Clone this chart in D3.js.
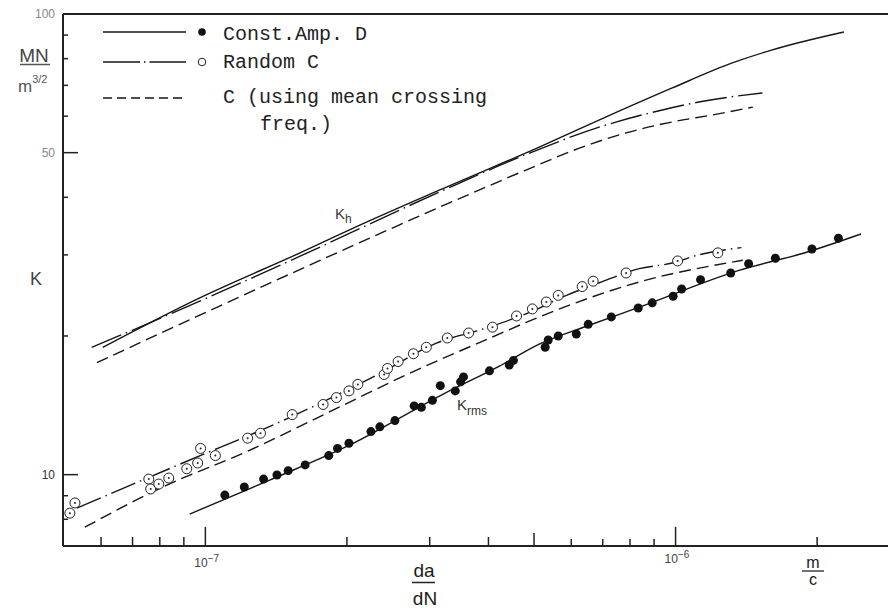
<!DOCTYPE html>
<html lang="en">
<head>
<meta charset="utf-8">
<title>K against da/dN</title>
<script src="https://d3js.org/d3.v7.min.js"></script>
<style>
  body { margin: 0; background: #fff; }
  text { font-family: "Liberation Sans", Arial, sans-serif; fill: #1a1a1a; }
  .mono { font-family: "Liberation Mono", "Courier New", monospace; fill: #222; }
  .tick { fill: #666; font-size: 12px; }
</style>
</head>
<body>
<script>
// da/dN in units of 1e-7 m/c, K in MN/m^3/2

// Const. Amp. D test points (filled)
var dotDa = [1.10,1.21,1.33,1.42,1.50,1.63,1.83,1.91,2.02,2.25,2.35,2.53,2.78,2.88,3.04,3.16,3.40,3.49,3.54,4.02,
             4.43,4.52,5.28,5.36,5.63,6.15,6.52,7.30,8.33,8.92,9.88,10.3,11.3,13.1,14.3,16.3,19.5,22.2];
var dotK  = [9.03,9.40,9.78,9.98,10.2,10.5,11.0,11.4,11.7,12.4,12.7,13.1,14.1,14.0,14.5,15.6,15.2,15.9,16.3,16.8,
             17.3,17.7,18.9,19.6,20.0,20.2,21.2,22.0,23.0,23.6,24.4,25.3,26.5,27.4,28.7,29.5,30.9,32.6];

// Random C test points (open)
var circDa = [0.515,0.528,0.758,0.765,0.796,0.836,0.913,0.963,0.977,1.05,1.23,1.31,1.53,1.78,1.90,2.02,2.11,
              2.40,2.44,2.57,2.77,2.95,3.27,3.63,4.08,4.59,4.96,5.31,5.63,6.33,6.68,7.85,10.1,12.3];
var circK  = [8.25,8.68,9.78,9.31,9.54,9.83,10.3,10.6,11.4,11.0,12.0,12.3,13.5,14.2,14.7,15.2,15.7,
              16.5,17.0,17.6,18.3,18.9,19.8,20.3,20.9,22.1,22.9,23.7,24.5,25.6,26.3,27.4,29.1,30.3];

// K_h curves
var khConstDa = [0.605,0.973,1.59,2.13,3.15,5.13,7.12,9.84,13.2,16.0,22.8];
var khConstK  = [18.9,24.2,30.3,34.8,41.5,51.4,59.8,69.1,78.3,83.5,91.4];
var khRandDa  = [0.573,0.701,0.973,1.59,3.15,4.89,6.88,9.37,11.2,15.3];
var khRandK   = [18.9,20.6,23.8,29.8,41.1,49.9,56.8,61.9,64.4,67.4];
var khMeanDa  = [0.588,0.973,1.53,3.70,4.82,6.33,7.85,9.84,12.0,14.6];
var khMeanK   = [17.5,22.2,27.4,40.9,45.9,51.4,55.2,58.3,60.4,62.8];

// K_rms curves
var rmsConstDa = [0.926,1.37,2.03,3.22,4.22,5.13,6.55,8.37,13.7,19.0,24.8];
var rmsConstK  = [8.21,9.73,11.6,15.0,17.2,19.2,21.1,23.1,27.8,30.4,33.3];
var rmsRandDa  = [0.533,0.895,1.51,2.38,3.10,3.83,4.89,5.86,6.88,8.37,9.84,11.2,13.8];
var rmsRandK   = [8.46,10.6,13.3,16.7,19.3,20.6,22.5,24.5,26.1,28.0,28.8,30.0,31.1];
var rmsMeanDa  = [0.554,0.828,1.22,1.84,2.72,4.08,5.13,8.37,13.9];
var rmsMeanK   = [7.69,9.49,11.2,13.7,16.6,19.9,22.0,26.2,29.2];

var yTicks = [100,90,80,70,60,50,40,30,20,10,9,8];
var yLabels = {100: "100", 50: "50", 10: "10"};
var xTicks = [0.6,0.7,0.8,0.9,1,2,3,4,5,6,7,8,9,10,20];
var xLabels = {1: "\u22127", 10: "\u22126"};

var width = 888, height = 608;
var mLeft = 63, mRight = 888, mTop = 14, mBottom = 546;

var svg = d3.select("body").append("svg")
    .attr("width", width)
    .attr("height", height);

svg.append("rect").attr("width", width).attr("height", height).attr("fill", "#fff");

var x = d3.scaleLog().domain([0.498, 28.3]).range([mLeft, mRight]);
var y = d3.scaleLog().domain([7, 100]).range([mBottom, mTop]);

function zip(a, b) { return a.map(function(v, i) { return [v, b[i]]; }); }

var line = d3.line()
    .x(function(d) { return x(d[0]); })
    .y(function(d) { return y(d[1]); })
    .curve(d3.curveMonotoneX);

// frame
svg.append("line").attr("x1", mLeft).attr("x2", mRight).attr("y1", mTop).attr("y2", mTop)
    .attr("stroke", "#222").attr("stroke-width", 2);
svg.append("line").attr("x1", mLeft).attr("x2", mRight).attr("y1", mBottom).attr("y2", mBottom)
    .attr("stroke", "#222").attr("stroke-width", 2);
svg.append("line").attr("x1", mLeft).attr("x2", mLeft).attr("y1", mTop).attr("y2", mBottom)
    .attr("stroke", "#222").attr("stroke-width", 2);

// y ticks (inward)
svg.selectAll(".ytick").data(yTicks).enter().append("line")
    .attr("x1", mLeft)
    .attr("x2", function(d) { return mLeft + (yLabels[d] && d != 100 ? 15 : 5); })
    .attr("y1", function(d) { return y(d); })
    .attr("y2", function(d) { return y(d); })
    .attr("stroke", "#222").attr("stroke-width", 1.5);

svg.selectAll(".ylab").data(yTicks.filter(function(d) { return yLabels[d]; })).enter().append("text")
    .attr("class", "tick")
    .attr("x", mLeft - 8)
    .attr("y", function(d) { return y(d) + 4; })
    .attr("text-anchor", "end")
    .style("fill", function(d) { return d == 10 ? "#333" : "#888"; })
    .text(function(d) { return yLabels[d]; });

// x ticks (upward)
svg.selectAll(".xtick").data(xTicks).enter().append("line")
    .attr("x1", function(d) { return x(d); })
    .attr("x2", function(d) { return x(d); })
    .attr("y1", mBottom)
    .attr("y2", function(d) {
        var len = xLabels[d] ? 19 : (d == 5 ? 13 : (d > 5 && d < 10 ? 7 : 9));
        return mBottom - len;
    })
    .attr("stroke", "#222").attr("stroke-width", 1.5);

var xl = svg.selectAll(".xlab").data(xTicks.filter(function(d) { return xLabels[d]; })).enter().append("text")
    .attr("class", "tick")
    .attr("x", function(d) { return x(d) - 11; })
    .attr("y", function(d) { return d == 1 ? 567 : 563; })
    .style("fill", "#444");
xl.append("tspan").text("10");
xl.append("tspan").attr("dy", -5).style("font-size", "10px").text(function(d) { return xLabels[d]; });

// curves
var curves = [
    [khConstDa, khConstK, null],
    [khRandDa, khRandK, "32,5,1.5,5"],
    [khMeanDa, khMeanK, "12,6"],
    [rmsConstDa, rmsConstK, null],
    [rmsRandDa, rmsRandK, "26,5,1.5,5"],
    [rmsMeanDa, rmsMeanK, "12,6"]
];
curves.forEach(function(c) {
    svg.append("path")
        .attr("d", line(zip(c[0], c[1])))
        .attr("fill", "none")
        .attr("stroke", "#151515")
        .attr("stroke-width", 1.4)
        .attr("stroke-dasharray", c[2]);
});

// open (dotted) circles
var circ = svg.selectAll(".circ").data(zip(circDa, circK)).enter().append("g")
    .attr("transform", function(d) { return "translate(" + x(d[0]) + "," + y(d[1]) + ")"; });
circ.append("circle").attr("r", 5).attr("fill", "#fff").attr("stroke", "#222").attr("stroke-width", 1);
circ.append("circle").attr("r", 1).attr("fill", "#222");

// filled dots
svg.selectAll(".dot").data(zip(dotDa, dotK)).enter().append("circle")
    .attr("cx", function(d) { return x(d[0]); })
    .attr("cy", function(d) { return y(d[1]); })
    .attr("r", 4.5)
    .attr("fill", "#111");

// curve labels
var kh = svg.append("text").attr("x", 335).attr("y", 219).style("font-size", "15px").style("fill", "#3a3a3a");
kh.append("tspan").text("K");
kh.append("tspan").attr("dy", 4).style("font-size", "12px").text("h");
var kr = svg.append("text").attr("x", 457).attr("y", 410).style("font-size", "15px").style("fill", "#333");
kr.append("tspan").text("K");
kr.append("tspan").attr("dy", 5).style("font-size", "12px").text("rms");

// legend
var lg = svg.append("g");
lg.append("line").attr("x1", 103).attr("x2", 186).attr("y1", 32).attr("y2", 32)
    .attr("stroke", "#151515").attr("stroke-width", 1.4);
lg.append("circle").attr("cx", 202).attr("cy", 32).attr("r", 3.8).attr("fill", "#111");
lg.append("text").attr("class", "mono").attr("x", 223).attr("y", 40).style("font-size", "20px").text("Const.Amp. D");

lg.append("line").attr("x1", 103).attr("x2", 186).attr("y1", 62).attr("y2", 62)
    .attr("stroke", "#151515").attr("stroke-width", 1.4).attr("stroke-dasharray", "37,4,1.5,4");
lg.append("circle").attr("cx", 202).attr("cy", 62).attr("r", 3.8).attr("fill", "none")
    .attr("stroke", "#222").attr("stroke-width", 1);
lg.append("text").attr("class", "mono").attr("x", 223).attr("y", 68).style("font-size", "20px").text("Random C");

lg.append("line").attr("x1", 103).attr("x2", 182).attr("y1", 98).attr("y2", 98)
    .attr("stroke", "#151515").attr("stroke-width", 1.4).attr("stroke-dasharray", "9,5");
lg.append("text").attr("class", "mono").attr("x", 223).attr("y", 103).style("font-size", "20px")
    .text("C (using mean crossing");
lg.append("text").attr("class", "mono").attr("x", 260).attr("y", 130).style("font-size", "20px")
    .text("freq.)");

// y axis title
svg.append("text").attr("x", 34).attr("y", 62).attr("text-anchor", "middle").style("font-size", "19px")
    .style("fill", "#444").text("MN");
svg.append("line").attr("x1", 20).attr("x2", 50).attr("y1", 64.5).attr("y2", 64.5)
    .attr("stroke", "#555").attr("stroke-width", 1.5);
var mu = svg.append("text").attr("x", 18).attr("y", 92).style("font-size", "17px").style("fill", "#555");
mu.append("tspan").text("m");
mu.append("tspan").attr("dy", -9).style("font-size", "11px").text("3/2");
svg.append("text").attr("x", 30).attr("y", 285).style("font-size", "18px").style("fill", "#444").text("K");

// x axis title
svg.append("text").attr("x", 424).attr("y", 577).attr("text-anchor", "middle").style("font-size", "19px").text("da");
svg.append("line").attr("x1", 412).attr("x2", 435).attr("y1", 582.5).attr("y2", 582.5)
    .attr("stroke", "#222").attr("stroke-width", 1.5);
svg.append("text").attr("x", 425).attr("y", 605).attr("text-anchor", "middle").style("font-size", "19px").text("dN");

svg.append("text").attr("x", 813).attr("y", 568).attr("text-anchor", "middle").style("font-size", "16px").text("m");
svg.append("line").attr("x1", 802).attr("x2", 824).attr("y1", 571).attr("y2", 571)
    .attr("stroke", "#222").attr("stroke-width", 1.3);
svg.append("text").attr("x", 813).attr("y", 585).attr("text-anchor", "middle").style("font-size", "16px").text("c");
</script>
</body>
</html>
